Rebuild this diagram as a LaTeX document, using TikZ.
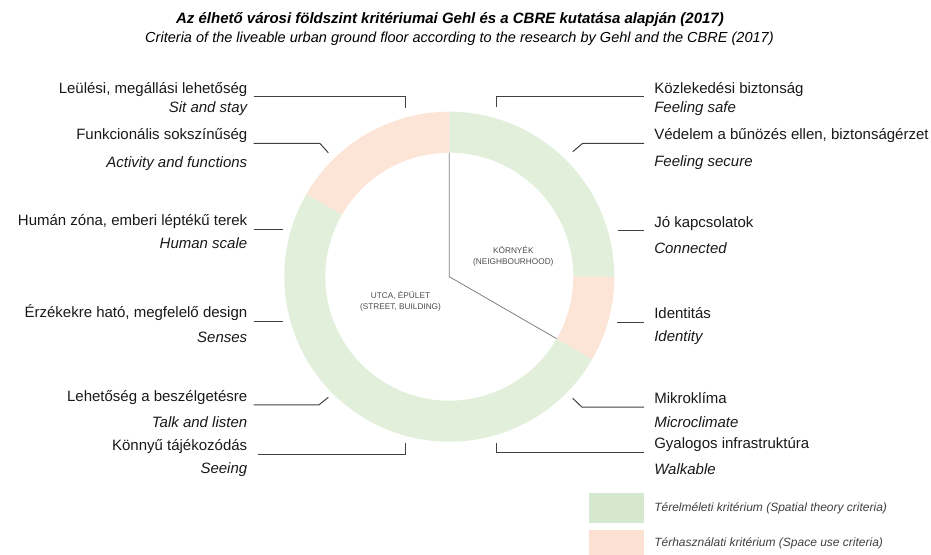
\documentclass[tikz,border=0pt]{standalone}
\usepackage{fontspec}
\setmainfont{Liberation Sans}
\usetikzlibrary{calc}
\definecolor{ringgreen}{HTML}{E2EFDA}
\definecolor{ringpink}{HTML}{FCE4D6}
\definecolor{keygreen}{HTML}{D5E8CF}
\definecolor{keypink}{HTML}{FCE0D2}
\definecolor{linegray}{HTML}{404040}

\begin{document}
\begin{tikzpicture}[
  x=0.75pt, y=-0.75pt,
  hu/.style={inner sep=0pt, font=\fontsize{11.25}{13.5}\selectfont, text=black!90},
  en/.style={hu, font=\fontsize{11.25}{13.5}\selectfont\itshape},
  leader/.style={draw=linegray, line width=0.75pt},
  divider/.style={draw=gray, line width=0.6pt},
  ringlbl/.style={align=center, inner sep=0pt, font=\fontsize{6.2}{8.4}\selectfont, text=black!70},
  keybox/.style={inner sep=0pt, minimum width=41.25pt},
  legtext/.style={anchor=west, inner sep=0pt, font=\fontsize{9}{11}\selectfont\itshape, text=black!75}
]
\useasboundingbox (0,0) rectangle (931,555);
\def\rout{123.75pt}
\def\rin{93pt}

% title
\node[font=\fontsize{11.25}{13.5}\selectfont\bfseries\itshape] (title) at (450,20)
  {Az élhető városi földszint kritériumai Gehl és a CBRE kutatása alapján (2017)};
\node[font=\fontsize{10.9}{13}\selectfont\itshape] (subtitle) at (459.5,39)
  {Criteria of the liveable urban ground floor according to the research by Gehl and the CBRE (2017)};

% ring
\coordinate (c) at (449.3,276.7);
\foreach \a/\b/\col in {0/90/ringgreen, 90/150/ringpink, 150/330/ringgreen, 330/360/ringpink}
  \fill[\col] ($(c)+(\a:\rout)$) arc[start angle=\a, end angle=\b, radius=\rout]
    -- ($(c)+(\b:\rin)$) arc[start angle=\b, end angle=\a, radius=\rin] -- cycle;

\coordinate (nbTop) at ($(c)+(90:\rin)$);
\coordinate (nbCut) at ($(c)+(-30:\rin)$);
\draw[divider] (nbTop) -- (c) -- (nbCut);

\node[ringlbl] (nbhd) at (513.3,256.5) {KÖRNYÉK\\(NEIGHBOURHOOD)};
\node[ringlbl] (street) at (400.5,301) {UTCA, ÉPÜLET\\(STREET, BUILDING)};

% left labels
\node[hu, anchor=base east] (sit) at (247.5,93.3) {Leülési, megállási lehetőség};
\node[en, anchor=base east] (sitEn) at (247.5,112.3) {Sit and stay};
\node[hu, anchor=base east] (act) at (247.5,140) {Funkcionális sokszínűség};
\node[en, anchor=base east] (actEn) at (247.5,167.3) {Activity and functions};
\node[hu, anchor=base east] (hum) at (247.5,225.7) {Humán zóna, emberi léptékű terek};
\node[en, anchor=base east] (humEn) at (247.5,248.7) {Human scale};
\node[hu, anchor=base east] (sen) at (247.5,318) {Érzékekre ható, megfelelő design};
\node[en, anchor=base east] (senEn) at (247.5,343) {Senses};
\node[hu, anchor=base east] (talk) at (247.5,401.3) {Lehetőség a beszélgetésre};
\node[en, anchor=base east] (talkEn) at (247.5,427) {Talk and listen};
\node[hu, anchor=base east] (see) at (247.5,450.7) {Könnyű tájékozódás};
\node[en, anchor=base east] (seeEn) at (247.5,474) {Seeing};

% right labels
\node[hu, anchor=base west] (safe) at (654,93.3) {Közlekedési biztonság};
\node[en, anchor=base west] (safeEn) at (654,112.3) {Feeling safe};
\node[hu, anchor=base west] (sec) at (654,140) {Védelem a bűnözés ellen, biztonságérzet};
\node[en, anchor=base west] (secEn) at (654,166.7) {Feeling secure};
\node[hu, anchor=base west] (con) at (654,227.3) {Jó kapcsolatok};
\node[en, anchor=base west] (conEn) at (654,253.7) {Connected};
\node[hu, anchor=base west] (ide) at (654,318.7) {Identitás};
\node[en, anchor=base west] (ideEn) at (654,341.3) {Identity};
\node[hu, anchor=base west] (mic) at (654,403.7) {Mikroklíma};
\node[en, anchor=base west] (micEn) at (654,427.7) {Microclimate};
\node[hu, anchor=base west] (walk) at (654,449) {Gyalogos infrastruktúra};
\node[en, anchor=base west] (walkEn) at (654,474.7) {Walkable};

% leaders
\coordinate (sitEnd) at (405,108);
\coordinate (actEnd) at (328.3,152.7);
\coordinate (humEnd) at (283.3,230);
\coordinate (senEnd) at (283.3,321);
\coordinate (talkEnd) at (328.3,397.3);
\coordinate (seeEnd) at (405,442.7);
\coordinate (safeEnd) at (496,106.7);
\coordinate (secEnd) at (572.7,151.7);
\coordinate (conEnd) at (618.3,231);
\coordinate (ideEnd) at (617.3,320.7);
\coordinate (micEnd) at (572.7,398.3);
\coordinate (walkEnd) at (496,442.7);

\draw[leader] ([shift={(6,3.5)}]sit.base east) -| (sitEnd);
\draw[leader] ([shift={(6,3.5)}]act.base east) -- ++(66.5,0) -- (actEnd);
\draw[leader] ([shift={(6,3.5)}]hum.base east) coordinate (humA) -- (humA -| humEnd);
\draw[leader] ([shift={(6,3.5)}]sen.base east) coordinate (senA) -- (senA -| senEnd);
\draw[leader] ([shift={(6,3.5)}]talk.base east) -- ++(65.5,0) -- (talkEnd);
\draw[leader] ([shift={(10,3.5)}]see.base east) -| (seeEnd);

\draw[leader] ([shift={(-10,3.5)}]safe.base west) -| (safeEnd);
\draw[leader] ([shift={(-10,3.5)}]sec.base west) -- ++(-61.5,0) -- (secEnd);
\draw[leader] ([shift={(-10,3.5)}]con.base west) coordinate (conA) -- (conA -| conEnd);
\draw[leader] ([shift={(-10,3.5)}]ide.base west) coordinate (ideA) -- (ideA -| ideEnd);
\draw[leader] ([shift={(-10,3.5)}]mic.base west) -- ++(-62,0) -- (micEnd);
\draw[leader] ([shift={(-10,3.5)}]walk.base west) -| (walkEnd);

% legend
\node[keybox, fill=keygreen, minimum height=22.5pt] (keyG) at (616.5,508) {};
\node[keybox, fill=keypink, minimum height=18.75pt] (keyP) at (616.5,542.5) {};
\node[legtext] (keyGtxt) at (654,508.3) {Térelméleti kritérium (Spatial theory criteria)};
\node[legtext] (keyPtxt) at (654,543.3) {Térhasználati kritérium (Space use criteria)};
\end{tikzpicture}
\end{document}
